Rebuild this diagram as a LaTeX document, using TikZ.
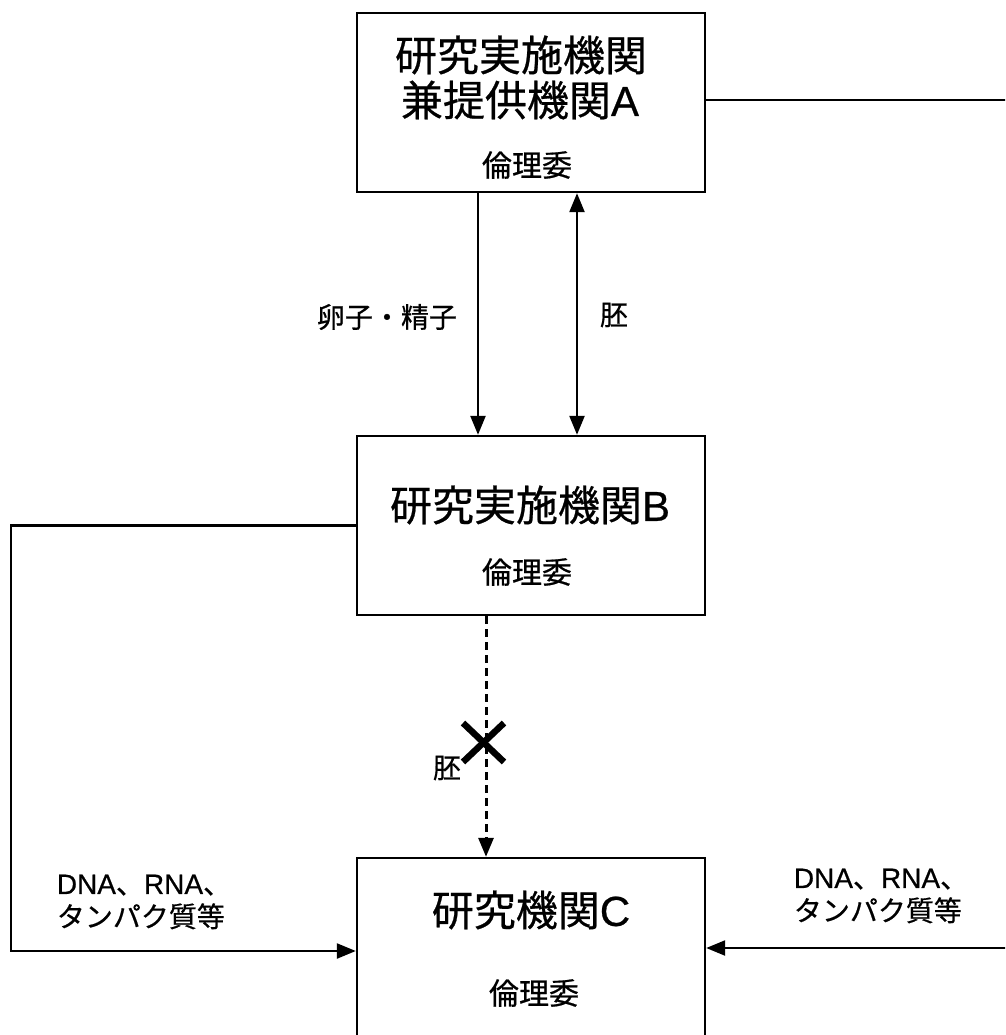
\documentclass[tikz,border=0pt]{standalone}
\usepackage{fontspec}
\setmainfont{Noto Sans CJK JP}[FakeBold=0.6]
\newfontfamily\ar{Liberation Sans}[FakeBold=0.6]
\usetikzlibrary{arrows.meta}
\begin{document}
\begin{tikzpicture}[x=1pt,y=-1pt,
  >={Triangle[length=19pt,width=15pt]},
  box/.style={draw,line width=2.4pt,minimum width=348pt,minimum height=179pt,inner sep=0pt},
  conn/.style={line width=2.4pt},
  dashconn/.style={line width=3pt,dash pattern=on 8pt off 5pt},
  big/.style={font=\fontsize{42}{46}\selectfont,inner sep=0pt},
  mid/.style={font=\fontsize{30}{34}\selectfont,inner sep=0pt},
  lab/.style={font=\fontsize{28}{33}\selectfont,inner sep=0pt,align=left}]
\useasboundingbox (0,0) rectangle (1005,1035);
\fill[white] (0,0) rectangle (1005,1035);
\clip (0,0) rectangle (1005,1035);

% boxes
\node[box] (A) at (531,102.5) {};
\node[big] (A1) at (521,55) {研究実施機関};
\node[big] (A2) at (520,100) {兼提供機関{\ar A}};
\node[mid] (A3) at (527,165) {倫理委};

\node[box] (B) at (531,525.5) {};
\node[big] (B1) at (530,505) {研究実施機関{\ar B}};
\node[mid] (B2) at (527,572) {倫理委};

\node[box,minimum height=200pt] (C) at (531,958) {};
\node[big] (C1) at (531,910) {研究機関{\ar C}};
\node[mid] (C2) at (534,993) {倫理委};

% labels
\node[lab] (L1) at (387,317) {卵子・精子};
\node[lab] (L2) at (614,315) {胚};
\node[lab] (L3) at (447,768) {胚};
\node[lab] (L4) at (144,902) {{\ar DNA}、{\ar RNA}、\\タンパク質等};
\node[lab] (L5) at (881,896) {{\ar DNA}、{\ar RNA}、\\タンパク質等};

% helper coordinates
\coordinate (x1) at (478,0);
\coordinate (x2) at (577,0);
\coordinate (x3) at (486,0);
\coordinate (ra) at (1010,100);
\coordinate (lc) at (11,951);
\coordinate (rc) at (1010,948);

% connectors
\draw[conn,->] (A.south -| x1) -- (B.north -| x1);
\draw[conn,<->] (A.south -| x2) -- (B.north -| x2);
\draw[dashconn,->] (B.south -| x3) -- (C.north -| x3);
\draw[conn] (A.east |- ra) -- (ra);
\draw[conn,->] (B.west) -| (lc) -- (lc -| C.west);
\draw[conn,->] (rc) -- (rc -| C.east);

% cross mark
\draw[line width=6.5pt] (463,723) -- (504,762) (463,762) -- (504,723);
\end{tikzpicture}
\end{document}
